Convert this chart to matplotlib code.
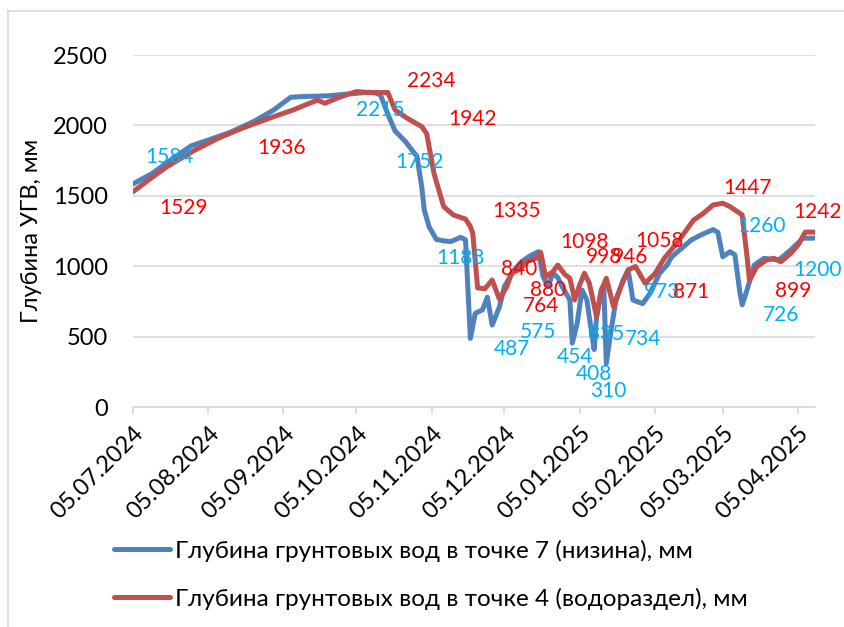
import matplotlib
matplotlib.use("Agg")
import matplotlib.pyplot as plt
import matplotlib.dates as mdates
from matplotlib.lines import Line2D
import pandas as pd

plt.rcParams['font.family'] = ['Lato', 'DejaVu Sans']

# Точка 7 (низина)
dates_7 = ["2024-07-05", "2024-07-13", "2024-07-21", "2024-07-29", "2024-08-04",
           "2024-08-14", "2024-08-24", "2024-09-01", "2024-09-08", "2024-09-13",
           "2024-09-23", "2024-10-03", "2024-10-10", "2024-10-13", "2024-10-15",
           "2024-10-18", "2024-10-21", "2024-10-25", "2024-10-30", "2024-11-01",
           "2024-11-02", "2024-11-04", "2024-11-07", "2024-11-10", "2024-11-13",
           "2024-11-17", "2024-11-19", "2024-11-21", "2024-11-23", "2024-11-26",
           "2024-11-28", "2024-11-30", "2024-12-03", "2024-12-05", "2024-12-09",
           "2024-12-12", "2024-12-15", "2024-12-19", "2024-12-21", "2024-12-23",
           "2024-12-25", "2024-12-27", "2024-12-29", "2025-01-01", "2025-01-02",
           "2025-01-04", "2025-01-06", "2025-01-08", "2025-01-10", "2025-01-11",
           "2025-01-12", "2025-01-14", "2025-01-15", "2025-01-16", "2025-01-18",
           "2025-01-20", "2025-01-23", "2025-01-25", "2025-01-27", "2025-01-31",
           "2025-02-03", "2025-02-07", "2025-02-10", "2025-02-12", "2025-02-20",
           "2025-02-24", "2025-03-01", "2025-03-03", "2025-03-05", "2025-03-08",
           "2025-03-10", "2025-03-12", "2025-03-13", "2025-03-15", "2025-03-18",
           "2025-03-22", "2025-03-28", "2025-04-02", "2025-04-07", "2025-04-12"]
depth_7 = [1584, 1660, 1760, 1855, 1890,
           1950, 2030, 2110, 2200, 2205,
           2210, 2225, 2235, 2230, 2215,
           2080, 1960, 1890, 1780, 1560,
           1400, 1280, 1190, 1180, 1175,
           1205, 1188, 487, 665, 690,
           780, 582, 712, 855, 973,
           1030, 1067, 1103, 925, 855,
           950, 920, 850, 760, 454,
           594, 831, 760, 523, 408,
           641, 835, 855, 310, 547,
           760, 902, 973, 760, 734,
           807, 950, 1008, 1067, 1186,
           1222, 1260, 1240, 1067, 1103,
           1080, 820, 726, 831, 1008,
           1056, 1044, 1115, 1198, 1200]

# Точка 4 (водораздел)
dates_4 = ["2024-07-05", "2024-07-12", "2024-07-19", "2024-07-30", "2024-08-09",
           "2024-08-19", "2024-08-30", "2024-09-09", "2024-09-19", "2024-09-22",
           "2024-09-28", "2024-10-05", "2024-10-10", "2024-10-18", "2024-10-21",
           "2024-10-26", "2024-11-01", "2024-11-03", "2024-11-06", "2024-11-10",
           "2024-11-14", "2024-11-19", "2024-11-21", "2024-11-22", "2024-11-24",
           "2024-11-27", "2024-11-30", "2024-12-03", "2024-12-06", "2024-12-08",
           "2024-12-12", "2024-12-14", "2024-12-18", "2024-12-20", "2024-12-22",
           "2024-12-25", "2024-12-27", "2024-12-30", "2025-01-01", "2025-01-03",
           "2025-01-05", "2025-01-07", "2025-01-09", "2025-01-12", "2025-01-14",
           "2025-01-16", "2025-01-19", "2025-01-22", "2025-01-25", "2025-01-28",
           "2025-02-01", "2025-02-05", "2025-02-09", "2025-02-14", "2025-02-21",
           "2025-02-25", "2025-03-01", "2025-03-05", "2025-03-08", "2025-03-13",
           "2025-03-15", "2025-03-16", "2025-03-19", "2025-03-23", "2025-03-26",
           "2025-03-29", "2025-04-02", "2025-04-05", "2025-04-08", "2025-04-12"]
depth_4 = [1529, 1620, 1707, 1820, 1908,
           1980, 2050, 2110, 2180, 2157,
           2200, 2240, 2234, 2234, 2109,
           2050, 1991, 1942, 1660, 1423,
           1364, 1335, 1281, 1233, 846,
           840, 902, 764, 855, 950,
           985, 1032, 1056, 1098, 925,
           961, 1008, 940, 914, 760,
           866, 950, 880, 641, 831,
           914, 712, 855, 973, 998,
           879, 946, 1058, 1162, 1328,
           1375, 1435, 1447, 1423, 1364,
           1067, 899, 996, 1044, 1056,
           1032, 1091, 1150, 1242, 1242]

# подписи значений (текст, дата, высота подписи)
labels_7 = ["1584", "2215", "1752", "1188", "487", "575", "454", "408",
            "310", "835", "734", "973", "1260", "726", "1200"]
label_dates_7 = ["2024-07-20", "2024-10-15", "2024-10-31", "2024-11-17", "2024-12-08",
                 "2024-12-19", "2025-01-03", "2025-01-11", "2025-01-17", "2025-01-16",
                 "2025-01-31", "2025-02-08", "2025-03-21", "2025-03-29", "2025-04-13"]
label_y_7 = [1776, 2109, 1740, 1058, 412, 533, 355, 234,
             114, 518, 483, 817, 1286, 653, 973]

labels_4 = ["1529", "1936", "2234", "1942", "1335", "840", "880", "764",
            "1098", "998", "946", "1058", "871", "1447", "899", "1242"]
label_dates_4 = ["2024-07-26", "2024-09-04", "2024-11-05", "2024-11-22", "2024-12-10",
                 "2024-12-11", "2024-12-23", "2024-12-20", "2025-01-07", "2025-01-15",
                 "2025-01-26", "2025-02-07", "2025-02-20", "2025-03-15", "2025-04-03",
                 "2025-04-13"]
label_y_4 = [1413, 1839, 2315, 2045, 1392, 980, 831, 717,
             1172, 1065, 1065, 1179, 817, 1555, 824, 1385]

month_ticks = pd.date_range("2024-07-01", "2025-04-01", freq="MS") + pd.Timedelta(days=4)

fig = plt.figure(figsize=(8.44, 6.27), dpi=100)
ax = fig.add_axes([133 / 844, 1 - 407 / 627, 682 / 844, 352 / 627])

ax.plot(pd.to_datetime(dates_7), depth_7, color='#4F81BD', lw=3.6,
        solid_joinstyle='round', solid_capstyle='round',
        label='Глубина грунтовых вод в точке 7 (низина), мм')
ax.plot(pd.to_datetime(dates_4), depth_4, color='#C0504D', lw=3.6,
        solid_joinstyle='round', solid_capstyle='round',
        label='Глубина грунтовых вод в точке 4 (водораздел), мм')

for t, d, y in zip(labels_7, label_dates_7, label_y_7):
    ax.text(pd.Timestamp(d), y, t, color='#00B0F0', fontsize=15,
            ha='center', va='center', clip_on=False)
for t, d, y in zip(labels_4, label_dates_4, label_y_4):
    ax.text(pd.Timestamp(d), y, t, color='#FF0000', fontsize=15,
            ha='center', va='center', clip_on=False)

ax.set_ylim(0, 2500)
ax.set_xlim(pd.Timestamp("2024-07-05"), pd.Timestamp("2025-04-12"))
ax.set_yticks(range(0, 2501, 500))
ax.set_xticks(month_ticks)
ax.xaxis.set_major_formatter(mdates.DateFormatter('%d.%m.%Y'))

ax.grid(axis='y', color='#D9D9D9', lw=1.2)
ax.set_axisbelow(True)
for s in ['top', 'right', 'left']:
    ax.spines[s].set_visible(False)
ax.spines['bottom'].set_color('#D9D9D9')
ax.spines['bottom'].set_linewidth(1.2)
ax.tick_params(axis='y', length=0, pad=18, labelsize=17)
ax.tick_params(axis='x', length=5, color='#D9D9D9', width=1.2, pad=6, labelsize=17)
for lab in ax.get_xticklabels():
    lab.set_rotation(45)
    lab.set_ha('right')
    lab.set_va('top')
    lab.set_rotation_mode('anchor')

ax.set_ylabel('Глубина УГВ, мм', fontsize=17, labelpad=8)

fig.legend(loc='upper left', bbox_to_anchor=(92 / 844, 1 - 518 / 627),
           frameon=False, fontsize=17.5, handlelength=2.3, handletextpad=0.2,
           labelspacing=1.05)

# рамка области диаграммы
fig.add_artist(Line2D([8 / 844, 8 / 844], [0, 1 - 11 / 627], color='#D9D9D9', lw=1.2))
fig.add_artist(Line2D([8 / 844, 1], [1 - 11 / 627, 1 - 11 / 627], color='#D9D9D9', lw=1.2))

fig.savefig('out.png', dpi=100)
